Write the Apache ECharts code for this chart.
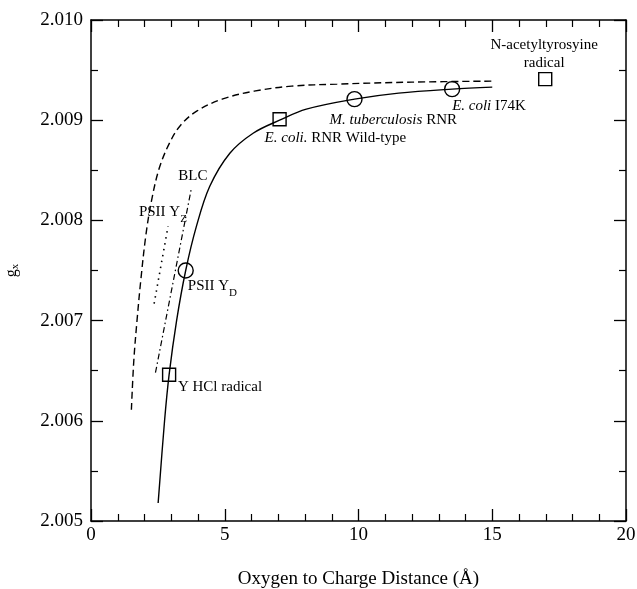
<!DOCTYPE html>
<html>
<head>
<meta charset="utf-8">
<script src="https://cdn.jsdelivr.net/npm/echarts@6/dist/echarts.min.js"></script>
<style>
  html, body { margin: 0; padding: 0; background: #fff; }
  #chart { width: 637px; height: 589px; }
</style>
</head>
<body>
<div id="chart"></div>
<script>
// fitted curve (solid)
const solidX = [2.51, 2.75, 2.92, 3.2, 3.54, 3.94, 4.44, 5.19, 6.06, 7.05, 8.05, 9.85, 11.5, 13.5, 15.0];
const solidY = [2.00518, 2.00600, 2.00646, 2.00700, 2.00750, 2.00794, 2.00834, 2.00867, 2.00887, 2.00900, 2.00911, 2.00921, 2.00927, 2.00931, 2.00933];

// dashed curve
const dashX = [1.51, 1.60, 1.72, 1.86, 2.05, 2.25, 2.55, 2.95, 3.35, 3.95, 4.9, 6.1, 7.5, 9.2, 12.0, 15.0];
const dashY = [2.00611, 2.00660, 2.00700, 2.00740, 2.00785, 2.00818, 2.00852, 2.00878, 2.00895, 2.00909, 2.00921, 2.00929, 2.00934, 2.00936, 2.00938, 2.00939];

// PSII Yz range (dotted) and BLC range (dash-dot)
const yzX = [2.36, 2.88];
const yzY = [2.00717, 2.00794];
const blcX = [2.41, 3.76];
const blcY = [2.00648, 2.00833];

// measured points
const circleX = [3.54, 9.85, 13.5];
const circleY = [2.00750, 2.00921, 2.00931];
const squareX = [2.92, 7.05, 16.98];
const squareY = [2.00646, 2.00901, 2.00941];

// annotations
const noteText = [
  'BLC',
  'PSII Y{sub|Z}',
  'PSII Y{sub|D}',
  'Y HCl radical',
  '{it|E. coli.} RNR Wild-type',
  '{it|M. tuberculosis} RNR',
  '{it|E. coli} I74K',
  'N-acetyltyrosyine\nradical'
];
const noteX = [3.81, 1.79, 3.62, 3.25, 6.49, 8.92, 13.5, 16.94];
const noteY = [2.00844, 2.00808, 2.00734, 2.00634, 2.00882, 2.00900, 2.00914, 2.00966];
const noteCentered = [true, false, false, false, false, false, false, true];

const xTicks = [0, 5, 10, 15, 20];
const yTicks = [2.005, 2.006, 2.007, 2.008, 2.009, 2.010];

const FONT = 'Liberation Serif';
const zip = (xs, ys) => xs.map((x, i) => [x, ys[i]]);

const chart = echarts.init(document.getElementById('chart'));

const axisCommon = {
  axisLine: { show: true, onZero: false, lineStyle: { color: '#000', width: 1.5 } },
  axisTick: { show: true, inside: true, length: 12, lineStyle: { color: '#000', width: 1.3 } },
  minorTick: { show: true, length: 7, lineStyle: { color: '#000', width: 1.2 } },
  splitLine: { show: false }
};

const option = {
  animation: false,
  backgroundColor: '#fff',
  grid: { left: 91, right: 11, top: 20, bottom: 68, containLabel: false, outerBoundsMode: 'none' },
  xAxis: [
    Object.assign({}, axisCommon, {
      type: 'value', position: 'bottom', min: xTicks[0], max: xTicks[xTicks.length - 1], interval: 5,
      minorTick: Object.assign({}, axisCommon.minorTick, { splitNumber: 5 }),
      axisLabel: { color: '#000', fontFamily: FONT, fontSize: 19, margin: 5 },
      name: 'Oxygen to Charge Distance (Å)', nameLocation: 'middle', nameGap: 49,
      nameTextStyle: { color: '#000', fontFamily: FONT, fontSize: 19 }
    }),
    Object.assign({}, axisCommon, {
      type: 'value', position: 'top', min: 0, max: 20, interval: 5,
      minorTick: Object.assign({}, axisCommon.minorTick, { splitNumber: 5 }),
      axisLabel: { show: false }
    })
  ],
  yAxis: [
    Object.assign({}, axisCommon, {
      type: 'value', position: 'left', min: yTicks[0], max: yTicks[yTicks.length - 1], interval: 0.001,
      minorTick: Object.assign({}, axisCommon.minorTick, { splitNumber: 2 }),
      axisLabel: { color: '#000', fontFamily: FONT, fontSize: 19, margin: 8, formatter: v => v.toFixed(3) },
      name: 'g{sub|x}', nameLocation: 'middle', nameGap: 70, nameRotate: 90,
      nameTextStyle: {
        color: '#000', fontFamily: FONT, fontSize: 16, lineHeight: 18,
        rich: { sub: { fontSize: 11, verticalAlign: 'bottom', fontFamily: FONT, color: '#000' } }
      }
    }),
    Object.assign({}, axisCommon, {
      type: 'value', position: 'right', min: 2.005, max: 2.010, interval: 0.001,
      minorTick: Object.assign({}, axisCommon.minorTick, { splitNumber: 2 }),
      axisLabel: { show: false }
    })
  ],
  series: [
    {
      type: 'line', data: zip(solidX, solidY), smooth: 0.35, showSymbol: false, z: 5,
      lineStyle: { color: '#000', width: 1.4 }
    },
    {
      type: 'line', data: zip(dashX, dashY), smooth: 0.35, showSymbol: false, z: 5,
      lineStyle: { color: '#000', width: 1.4, type: [7, 4] }
    },
    {
      type: 'line', data: zip(yzX, yzY), showSymbol: false, z: 5,
      lineStyle: { color: '#000', width: 1.6, type: [1.5, 4.5] }
    },
    {
      type: 'line', data: zip(blcX, blcY), showSymbol: false, z: 5,
      lineStyle: { color: '#000', width: 1.2, type: [6, 3, 1.5, 3] }
    },
    {
      type: 'scatter', data: zip(circleX, circleY), symbol: 'circle', symbolSize: 15, z: 4,
      itemStyle: { color: 'rgba(0,0,0,0)', borderColor: '#000', borderWidth: 1.4, opacity: 1 }
    },
    {
      type: 'scatter', data: zip(squareX, squareY), symbol: 'rect', symbolSize: 13, z: 4,
      itemStyle: { color: 'rgba(0,0,0,0)', borderColor: '#000', borderWidth: 1.4, opacity: 1 }
    },
    {
      type: 'scatter', symbolSize: 0, silent: true, z: 6,
      itemStyle: { opacity: 1 },
      data: noteText.map((t, i) => ({
        value: [noteX[i], noteY[i]],
        label: {
          show: true,
          formatter: t,
          position: noteCentered[i] ? 'inside' : 'right',
          distance: 0,
          align: noteCentered[i] ? 'center' : 'left',
          verticalAlign: 'middle'
        }
      })),
      label: {
        color: '#000', fontFamily: FONT, fontSize: 15, lineHeight: 18,
        rich: {
          it: { fontStyle: 'italic', fontFamily: FONT, fontSize: 15, color: '#000' },
          sub: { fontSize: 11, verticalAlign: 'bottom', fontFamily: FONT, color: '#000', padding: [0, 0, -3, 0] }
        }
      }
    }
  ]
};

chart.setOption(option);
</script>
</body>
</html>
